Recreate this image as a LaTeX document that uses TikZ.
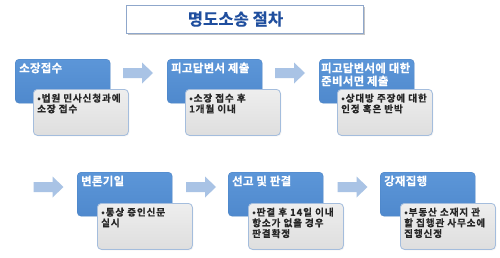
\documentclass[tikz,border=0pt]{standalone}
\usepackage{fontspec}
\setmainfont{Noto Sans CJK KR}[BoldFont={Noto Sans CJK KR Bold}, BoldFeatures={FakeBold=0.4}]
\usetikzlibrary{shadows}
\definecolor{blueTop}{HTML}{5C96D8}
\definecolor{blueBot}{HTML}{4F89CD}
\definecolor{blueEdge}{HTML}{4A82C4}
\definecolor{grayTop}{HTML}{EEEEEE}
\definecolor{grayBot}{HTML}{DEDEDE}
\definecolor{grayBorder}{HTML}{A4BDDD}
\definecolor{arrowCol}{HTML}{A9C3E5}
\definecolor{titleBorder}{HTML}{8FA7CB}
\definecolor{titleText}{HTML}{1F4E9E}
\tikzset{
  bluebox/.style={rectangle, rounded corners=4pt, top color=blueTop, bottom color=blueBot,
    draw=blueEdge, minimum width=95pt, minimum height=44pt, anchor=north west, inner sep=0pt},
  graybox/.style={rectangle, rounded corners=4pt, top color=grayTop, bottom color=grayBot,
    draw=grayBorder, line width=0.8pt, minimum width=95pt, minimum height=46pt,
    anchor=north west, inner sep=0pt,
    drop shadow={opacity=0.1, shadow xshift=1pt, shadow yshift=-1pt}},
  bluetext/.style={anchor=north west, text=white, align=left, inner sep=0pt,
    font=\bfseries\fontsize{11.4}{13}\selectfont\addfontfeatures{LetterSpace=3}},
  graytext/.style={anchor=north west, text=black!85, align=left, inner sep=0pt,
    font=\bfseries\fontsize{9.6}{10.7}\selectfont\addfontfeatures{LetterSpace=9}},
  titlebox/.style={rectangle, draw=titleBorder, line width=0.9pt, fill=white,
    minimum width=237pt, minimum height=28pt, inner sep=0pt,
    drop shadow={opacity=0.45, shadow xshift=2pt, shadow yshift=-2pt}},
  titletext/.style={text=titleText, inner sep=0pt, font=\bfseries\fontsize{16.6}{19}\selectfont},
  blockarrow/.pic={\fill[arrowCol] (-15,-5) -- (4,-5) -- (4,-10.5) -- (15,0) -- (4,10.5) -- (4,5) -- (-15,5) -- cycle;}
}
\begin{document}
\begin{tikzpicture}[x=1pt,y=-1pt]
\useasboundingbox (0,0) rectangle (500,257);
\fill[white] (0,0) rectangle (500,257);

% title
\node[titlebox] (title) at (244.5,19) {};
\node[titletext] (titlelabel) at (235.5,19) {명도소송 절차};

% row 1
\node[bluebox] (b1) at (15,59) {};
\node[bluebox] (b2) at (167,59) {};
\node[bluebox] (b3) at (319,59) {};
\node[bluetext] (t1) at ([shift={(4,3.5)}]b1.north west) {소장접수};
\node[bluetext] (t2) at ([shift={(4,3.5)}]b2.north west) {피고답변서 제출};
\node[bluetext] (t3) at ([shift={(2,3.5)}]b3.north west) {피고답변서에 대한\\준비서면 제출};
\node[graybox] (g1) at (33,89) {};
\node[graybox] (g2) at (185,89) {};
\node[graybox] (g3) at (337,89) {};
\node[graytext] (s1) at ([shift={(4,4.5)}]g1.north west) {•법원 민사신청과에\\소장 접수};
\node[graytext] (s2) at ([shift={(4,4.5)}]g2.north west) {•소장 접수 후\\1개월 이내};
\node[graytext] (s3) at ([shift={(4,4.5)}]g3.north west) {•상대방 주장에 대한\\인정 혹은 반박};

% row 2
\node[bluebox] (b4) at (77,172) {};
\node[bluebox] (b5) at (228,172) {};
\node[bluebox] (b6) at (380,172) {};
\node[bluetext] (t4) at ([shift={(4,3.5)}]b4.north west) {변론기일};
\node[bluetext] (t5) at ([shift={(4,3.5)}]b5.north west) {선고 및 판결};
\node[bluetext] (t6) at ([shift={(4,3.5)}]b6.north west) {강재집행};
\node[graybox] (g4) at (97,203) {};
\node[graybox] (g5) at (248,203) {};
\node[graybox] (g6) at (400,203) {};
\node[graytext] (s4) at ([shift={(4,4.5)}]g4.north west) {•통상 증인신문\\실시};
\node[graytext] (s5) at ([shift={(4,4.5)}]g5.north west) {•판결 후 14일 이내\\항소가 없을 경우\\판결확정};
\node[graytext] (s6) at ([shift={(4,4.5)}]g6.north west) {•부동산 소재지 관\\할 집행관 사무소에\\집행신정};

% block arrows
\pic (a1) at (138,73) {blockarrow};
\pic (a2) at (290,73) {blockarrow};
\pic (a3) at (48.5,187) {blockarrow};
\pic (a4) at (201,187) {blockarrow};
\pic (a5) at (352.5,187) {blockarrow};
\end{tikzpicture}
\end{document}
